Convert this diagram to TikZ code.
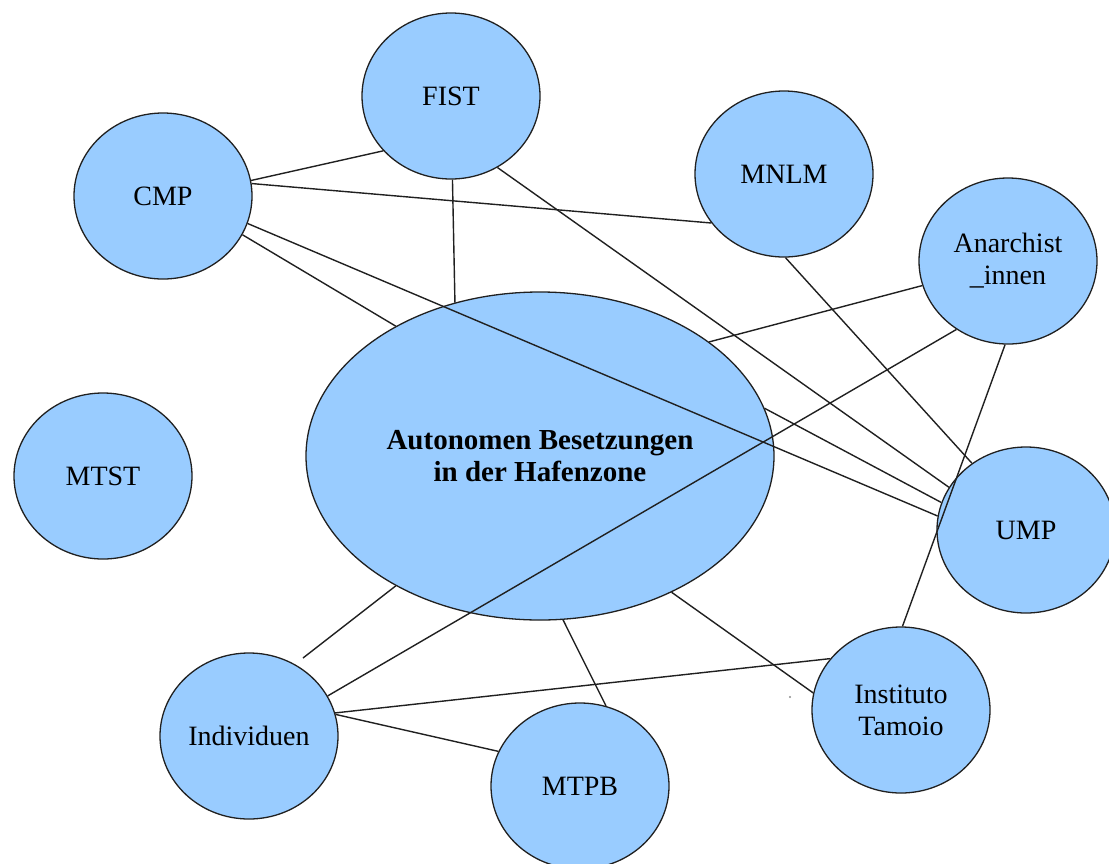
\documentclass[tikz,border=0pt]{standalone}
\usepackage{fontspec}
\setmainfont{Liberation Serif}
\usetikzlibrary{shapes.geometric}
\definecolor{nodeblue}{HTML}{99CCFF}
\definecolor{edgegray}{HTML}{202020}
\begin{document}
\begin{tikzpicture}[x=1pt,y=-1pt,
  blob/.style={ellipse, draw=edgegray, fill=nodeblue, line width=1.3pt,
    minimum width=178pt, minimum height=166pt, inner sep=0pt,
    font=\fontsize{28}{32}\selectfont, align=center},
  hub/.style={blob, minimum width=468pt, minimum height=328pt,
    font=\fontsize{29}{32}\selectfont\bfseries},
  link/.style={draw=edgegray, line width=1.4pt}]
\useasboundingbox (0,0) rectangle (1109,863);
\clip (0,0) rectangle (1109,863);

% nodes
\node[blob] (fist)  at (451,96)  {FIST};
\node[blob] (cmp)   at (163,196) {CMP};
\node[blob] (mnlm)  at (784,174) {MNLM};
\node[blob] (anar)  at (1008,261) {Anarchist\\\_innen};
\node[blob] (mtst)  at (103,476) {MTST};
\node[hub]  (hub)   at (540,456) {Autonomen Besetzungen\\in der Hafenzone};
\node[blob] (ump)   at (1026,530) {UMP};
\node[blob] (inst)  at (901,710) {Instituto\\Tamoio};
\node[blob] (indiv) at (249,736) {Individuen};
\node[blob] (mtpb)  at (580,786) {MTPB};
\coordinate (stub) at (303,658);

% connectors
\draw[link] (cmp.10) -- (fist.219);
\draw[link] (cmp.8) -- (mnlm.214);
\draw[link] (cmp.342) -- (ump.171);
\draw[link] (cmp.334) -- (hub.138);
\draw[link] (fist.271) -- (hub.119);
\draw[link] (fist.303) -- (ump.151);
\draw[link] (mnlm.271) -- (ump.129);
\draw[link] (anar.196) -- (hub.34);
\draw[link] (anar.233) -- (indiv.27);
\draw[link] (anar.268) -- (inst.89);
\draw[link] (hub.12) -- (ump.162);
\draw[link] (hub.222) -- (stub);
\draw[link] (hub.278) -- (mtpb.72);
\draw[link] (hub.314) -- (inst.169);
\draw[link] (indiv.15) -- (inst.144);
\draw[link] (indiv.14) -- (mtpb.157);

% stray speck
\fill[black!45] (790,697) circle (1.2pt);
\end{tikzpicture}
\end{document}
